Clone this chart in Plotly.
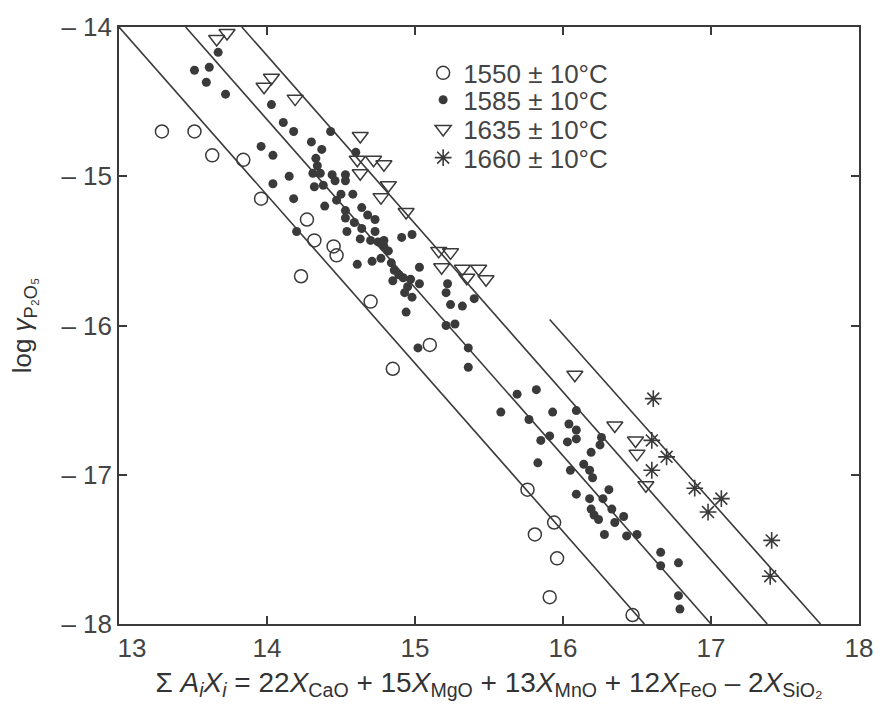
import plotly.graph_objects as go

# ---------------- data ----------------
x_1550 = [13.29, 13.51, 13.63, 13.84, 13.96, 14.27, 14.32, 14.45, 14.47, 14.23,
          14.70, 15.10, 14.85, 15.76, 15.94, 15.81, 15.96, 15.91, 16.47]
y_1550 = [-14.70, -14.70, -14.86, -14.89, -15.15, -15.29, -15.43, -15.47, -15.53, -15.67,
          -15.84, -16.13, -16.29, -17.10, -17.32, -17.40, -17.56, -17.82, -17.94]

x_1585 = [13.67, 13.51, 13.61, 13.59, 13.72, 14.03, 14.11, 14.18, 14.43, 14.30,
          14.37, 13.96, 14.04, 14.60, 14.33, 14.34, 14.31, 14.36, 14.44, 14.53,
          14.46, 14.53, 14.32, 14.38, 14.15, 14.04, 14.58, 14.50, 14.47, 14.18,
          14.39, 14.53, 14.64, 14.68, 14.73, 14.53, 14.59, 14.64, 14.73, 14.54,
          14.91, 14.98, 14.20, 14.63, 14.70, 14.75, 14.79, 14.79, 14.82, 14.77,
          14.61, 14.71, 14.84, 14.86, 15.03, 14.89, 14.92, 14.85, 14.97, 15.03,
          14.95, 14.93, 14.98, 14.94, 15.22, 15.21, 15.24, 15.32, 15.40, 15.21,
          15.27, 15.02, 15.36, 15.36, 15.69, 15.82, 15.58, 15.77, 15.93, 16.09,
          16.04, 16.09, 16.09, 15.85, 15.91, 16.03, 16.26, 16.25, 16.19, 15.83,
          16.05, 16.14, 16.18, 16.20, 16.09, 16.18, 16.27, 16.31, 16.19, 16.21,
          16.24, 16.33, 16.41, 16.35, 16.28, 16.43, 16.50, 16.66, 16.66, 16.78,
          16.78, 16.79]
y_1585 = [-14.17, -14.29, -14.27, -14.37, -14.45, -14.52, -14.64, -14.70, -14.70, -14.77,
          -14.82, -14.80, -14.86, -14.84, -14.88, -14.93, -14.98, -14.98, -14.99, -14.99,
          -15.03, -15.03, -15.07, -15.06, -15.00, -15.05, -15.12, -15.12, -15.16, -15.15,
          -15.20, -15.23, -15.21, -15.26, -15.29, -15.28, -15.31, -15.35, -15.37, -15.37,
          -15.41, -15.39, -15.37, -15.42, -15.43, -15.44, -15.43, -15.47, -15.50, -15.55,
          -15.59, -15.57, -15.58, -15.63, -15.61, -15.66, -15.68, -15.70, -15.69, -15.72,
          -15.74, -15.78, -15.81, -15.91, -15.72, -15.78, -15.86, -15.87, -15.82, -16.00,
          -15.99, -16.15, -16.15, -16.28, -16.46, -16.43, -16.58, -16.63, -16.58, -16.57,
          -16.66, -16.70, -16.76, -16.77, -16.74, -16.78, -16.75, -16.80, -16.85, -16.92,
          -16.97, -16.93, -16.97, -17.02, -17.13, -17.16, -17.16, -17.10, -17.23, -17.27,
          -17.30, -17.23, -17.28, -17.32, -17.40, -17.41, -17.40, -17.52, -17.61, -17.59,
          -17.81, -17.90]

x_1635 = [13.66, 13.73, 13.98, 14.03, 14.19, 14.63, 14.61, 14.72, 14.79, 14.63,
          14.82, 14.77, 14.94, 15.16, 15.24, 15.18, 15.32, 15.43, 15.35, 15.48,
          16.08, 16.35, 16.49, 16.50, 16.56]
y_1635 = [-14.08, -14.04, -14.40, -14.34, -14.48, -14.73, -14.89, -14.89, -14.92, -14.98,
          -15.06, -15.14, -15.24, -15.50, -15.51, -15.61, -15.62, -15.62, -15.68, -15.69,
          -16.33, -16.67, -16.77, -16.86, -17.07]

x_1660 = [16.61, 16.60, 16.70, 16.60, 16.89, 17.07, 16.98, 17.41, 17.40]
y_1660 = [-16.49, -16.77, -16.88, -16.97, -17.09, -17.16, -17.25, -17.44, -17.68]

# fitted parallel lines (start / end points)
line_x0 = [13.00, 13.45, 13.83, 15.91]
line_y0 = [-14.00, -14.00, -14.00, -15.96]
line_x1 = [16.55, 17.00, 17.38, 17.74]
line_y1 = [-18.00, -18.00, -18.00, -18.00]

x_ticks = [13, 14, 15, 16, 17, 18]
x_ticktext = ["\u2002\u200213", "14", "15", "16", "17", "18"]
y_ticks = [-18, -17, -16, -15, -14]
y_ticktext = ["\u2013 18", "\u2013 17", "\u2013 16", "\u2013 15", "\u2013 14"]

labels = ["1550 \u00b1 10\u00b0C", "1585 \u00b1 10\u00b0C", "1635 \u00b1 10\u00b0C", "1660 \u00b1 10\u00b0C"]

# ---------------- figure ----------------
INK = "#3a3a3a"
FONT = "Liberation Sans, Arial, sans-serif"

fig = go.Figure()

for i in range(len(line_x0)):
    fig.add_trace(go.Scatter(x=[line_x0[i], line_x1[i]], y=[line_y0[i], line_y1[i]],
                             mode="lines", line=dict(color=INK, width=1.6),
                             showlegend=False, hoverinfo="skip"))

fig.add_trace(go.Scatter(x=x_1550, y=y_1550, mode="markers", name=labels[0], legend="legend",
                         marker=dict(symbol="circle-open", size=13, color=INK, line=dict(width=1.5, color=INK))))
fig.add_trace(go.Scatter(x=x_1585, y=y_1585, mode="markers", name=labels[1], legend="legend2",
                         marker=dict(symbol="circle", size=9, color=INK, line=dict(width=0))))
fig.add_trace(go.Scatter(x=x_1635, y=y_1635, mode="markers", name=labels[2], legend="legend3",
                         marker=dict(symbol="triangle-down-open", size=14, color=INK, line=dict(width=1.5, color=INK))))
fig.add_trace(go.Scatter(x=x_1660, y=y_1660, mode="markers", name=labels[3], legend="legend4",
                         marker=dict(symbol="asterisk-open", size=14, color=INK, line=dict(width=1.6, color=INK))))

axis_common = dict(showgrid=False, zeroline=False, showline=True, linecolor=INK, linewidth=1.6,
                   mirror="ticks", ticks="inside", ticklen=8, tickwidth=1.5, tickcolor=INK,
                   ticklabeloverflow="allow",
                   tickfont=dict(family=FONT, size=26, color="#444444"))

fig.update_xaxes(range=[13, 18], tickvals=x_ticks, ticktext=x_ticktext,
                 title=dict(text="\u03a3 <i>A<sub>i</sub>X<sub>i</sub></i> = 22<i>X</i><sub>CaO</sub> + 15<i>X</i><sub>MgO</sub>"
                                 " + 13<i>X</i><sub>MnO</sub> + 12<i>X</i><sub>FeO</sub> \u2013 2<i>X</i><sub>SiO\u2082</sub>",
                            font=dict(family=FONT, size=28, color="#333333"), standoff=10),
                 **axis_common)
fig.update_yaxes(range=[-18, -14], tickvals=y_ticks, ticktext=y_ticktext,
                 title=dict(text="log <i>\u03b3</i><sub>P\u2082O\u2085</sub>",
                            font=dict(family=FONT, size=26, color="#333333"), standoff=22),
                 **axis_common)

leg_common = dict(x=0.411, xanchor="left", yanchor="middle", bgcolor="rgba(0,0,0,0)",
                  font=dict(family=FONT, size=26, color="#444444"), itemwidth=30,
                  borderwidth=0)
legend_y = [0.923, 0.878, 0.829, 0.781]

fig.update_layout(
    width=885, height=709,
    margin=dict(l=119, r=14, t=16, b=85),
    paper_bgcolor="white", plot_bgcolor="white",
    font=dict(family=FONT, color="#333333"),
    legend=dict(y=legend_y[0], **leg_common),
    legend2=dict(y=legend_y[1], **leg_common),
    legend3=dict(y=legend_y[2], **leg_common),
    legend4=dict(y=legend_y[3], **leg_common),
)

fig.write_html("out.html")
